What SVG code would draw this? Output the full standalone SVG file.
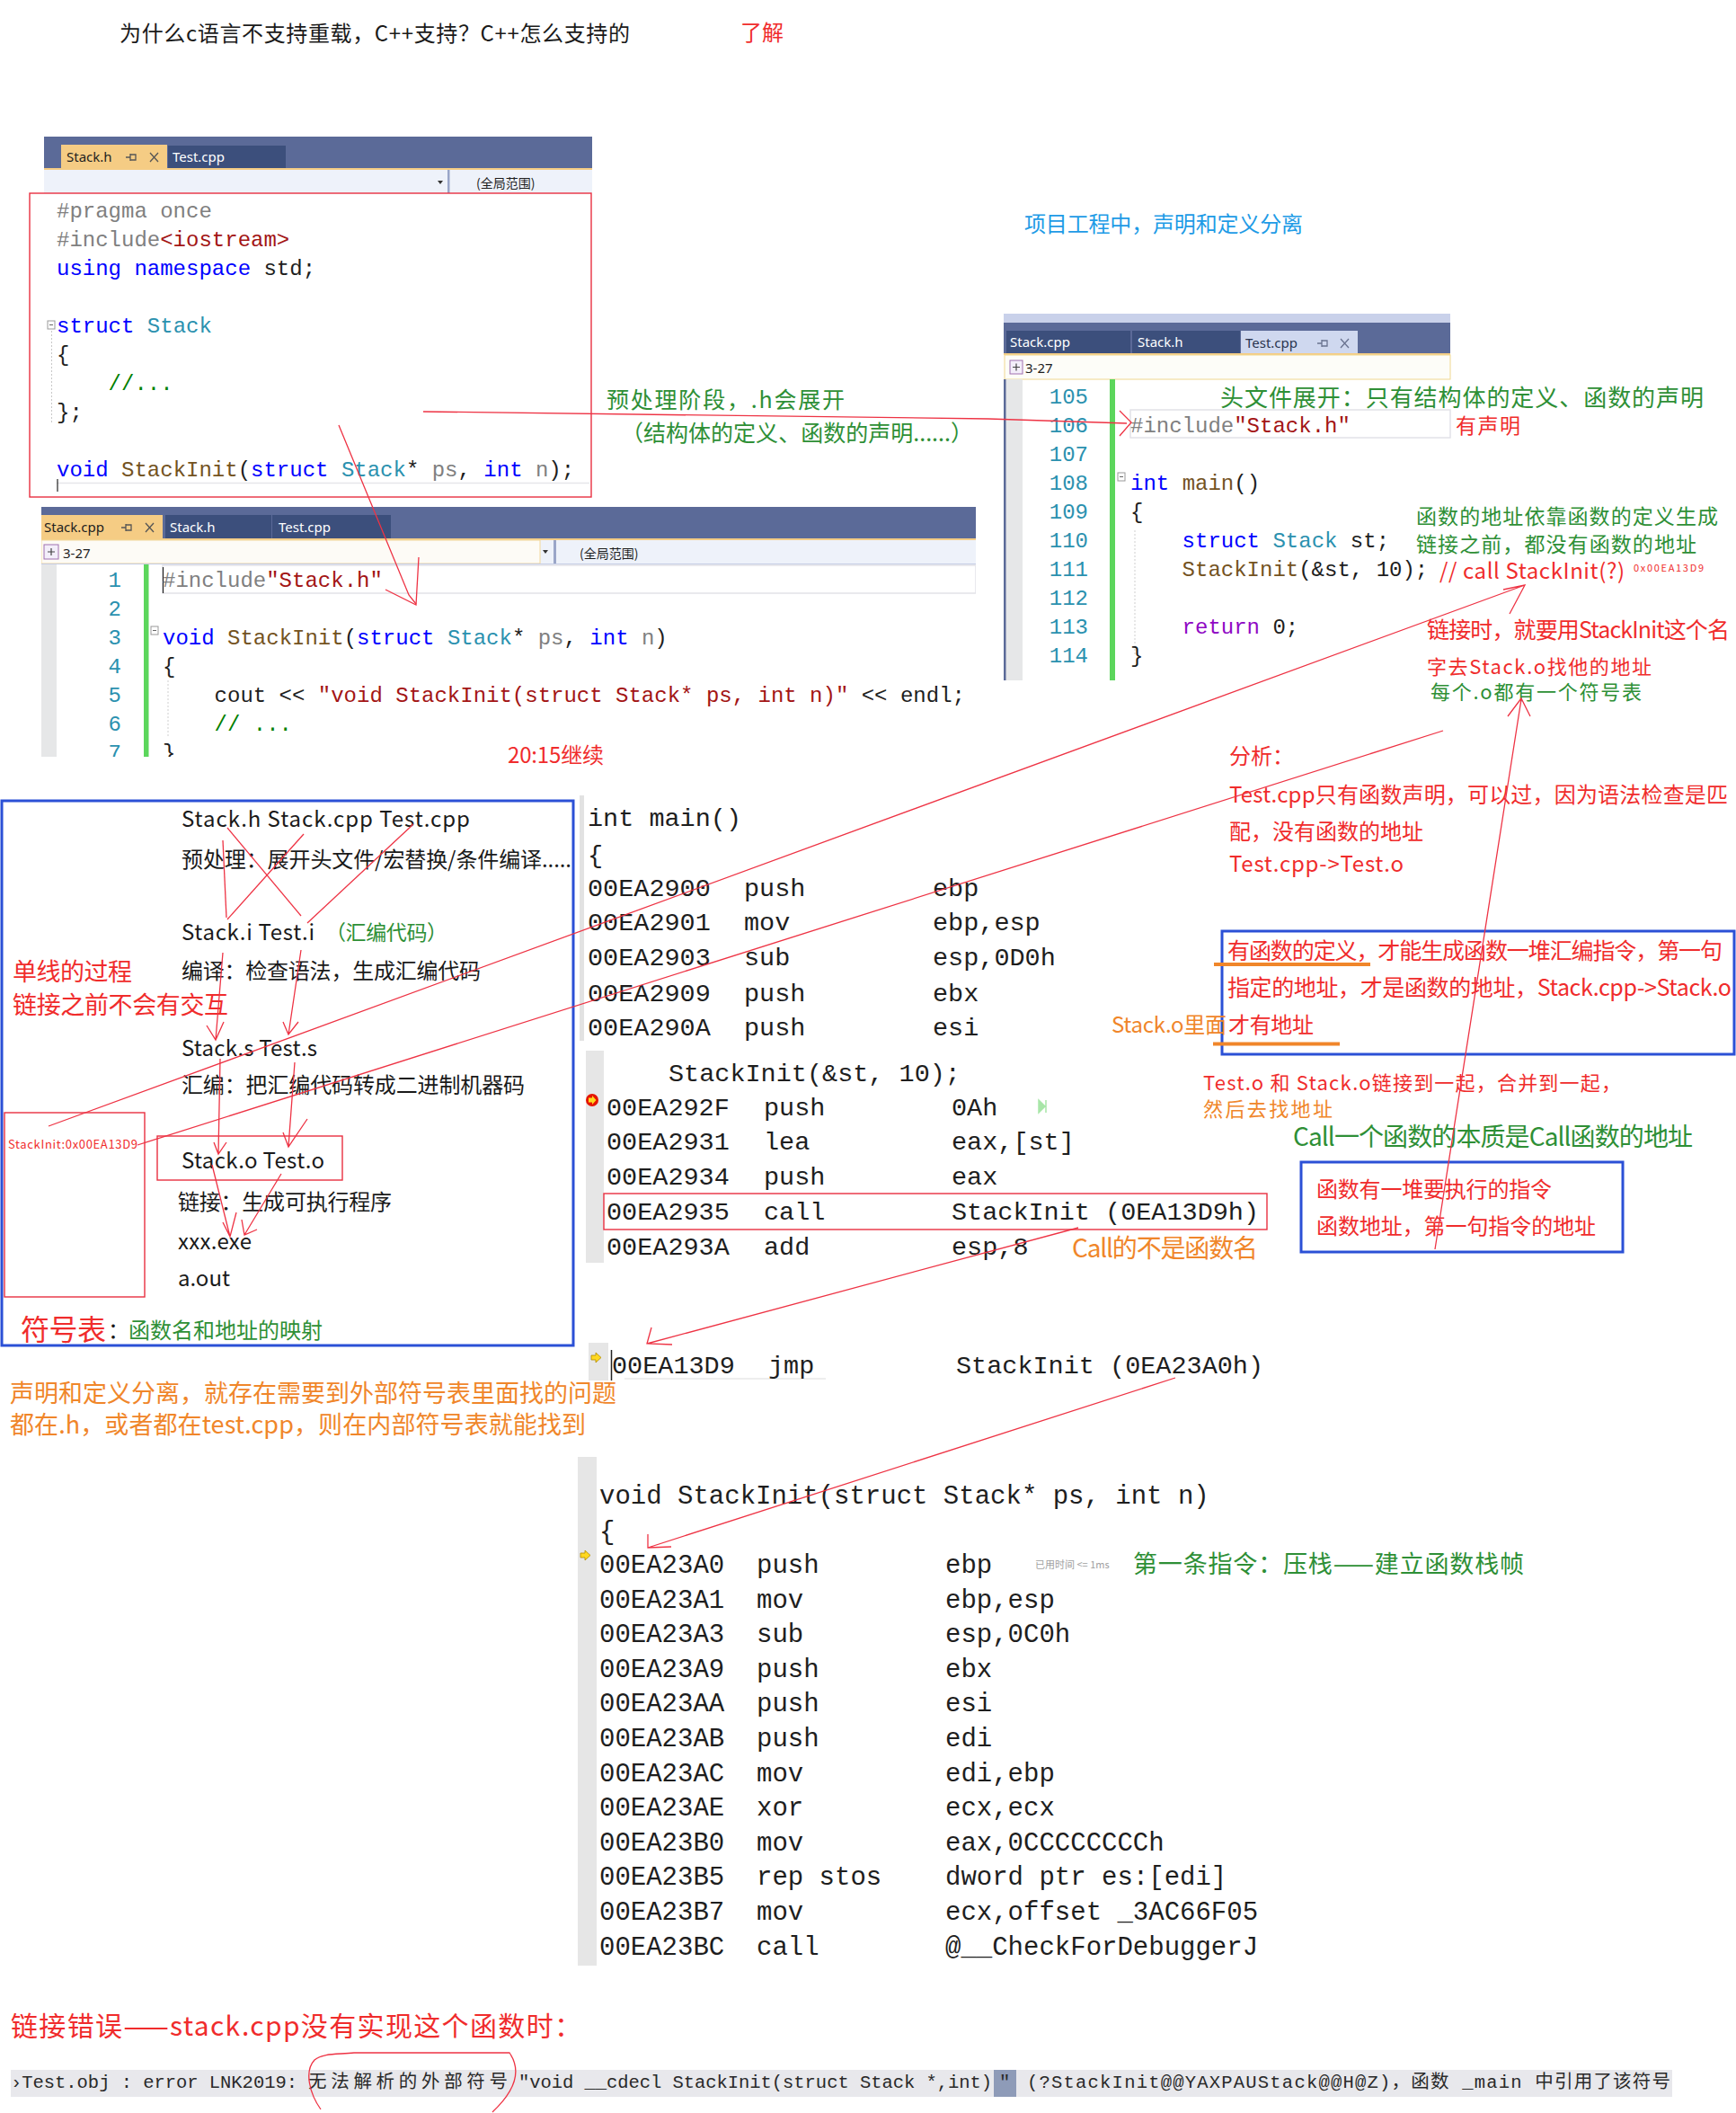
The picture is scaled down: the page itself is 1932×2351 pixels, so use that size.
<svg xmlns="http://www.w3.org/2000/svg" width="1932" height="2351" viewBox="0 0 1932 2351">
<defs>
<style>
.cjk{font-family:"Noto Sans CJK SC","Noto Sans",sans-serif}
.mono{font-family:"Liberation Mono","DejaVu Sans Mono","Noto Sans CJK SC",monospace;white-space:pre}
.code{font-size:24px;fill:#1e1e1e}
.asm{font-size:28.5px;fill:#1e1e1e}
.asm2{font-size:29px;fill:#1e1e1e}
.r{fill:#f02c2c}.g{fill:#2e8f36}.o{fill:#f0862a}.b{fill:#1e9be6}.k{fill:#1a1a1a}
.kw{fill:#0000ff}.ty{fill:#2b91af}.pp{fill:#808080}.st{fill:#a31515}.cm{fill:#008000}.fn{fill:#74531f}.pa{fill:#808080}.rt{fill:#8f08c4}
.ln{fill:#2b91af;font-size:24px}
.bar{fill:#5b6a98}.tab{fill:#3c4f7c}.act{fill:#f5cc84}
.tabt{font-family:"Noto Sans","Liberation Sans",sans-serif;font-size:15px}
.wire{fill:none;stroke:#ee3344;stroke-width:1.3}
.rbox{fill:none;stroke:#e83040;stroke-width:1.4}
.bbox{fill:none;stroke:#2b50d6;stroke-width:3}
.ic{fill:none;stroke:#555;stroke-width:1.3}
.gut{fill:#e6e7e8}
</style>
<clipPath id="cppclip"><rect x="46" y="564" width="1040" height="278"/></clipPath>
</defs>
<rect width="1932" height="2351" fill="#ffffff"/>

<g id="title">
<text class="cjk k" x="133" y="46" font-size="24" textLength="568">为什么c语言不支持重载，C++支持？C++怎么支持的</text>
<text class="cjk r" x="824" y="45" font-size="24">了解</text>
</g>

<g id="stack-h-window">
<rect class="bar" x="49" y="152" width="610" height="37"/>
<rect class="act" x="68" y="161" width="118" height="26"/>
<text class="tabt" x="74" y="180" fill="#1e1e1e">Stack.h</text>
<path class="ic" d="M140,175 h5 M145,171 v8 M145,172 h6 v6 h-6"/>
<path class="ic" d="M167,170 l9,10 M176,170 l-9,10"/>
<rect class="tab" x="187" y="162" width="131" height="25"/>
<text class="tabt" x="192" y="180" fill="#ffffff">Test.cpp</text>
<rect class="act" x="49" y="187" width="610" height="2"/>
<rect x="49" y="189" width="610" height="26" fill="#eef2fa"/>
<path d="M487,201 h6 l-3,4 z" fill="#333"/>
<rect x="498" y="189" width="2.5" height="26" fill="#9aa6c8"/>
<text class="cjk" x="530" y="209" font-size="14" fill="#1e1e1e">(全局范围)</text>
<rect class="rbox" x="33" y="215" width="625" height="338"/>
<rect x="53" y="357" width="8" height="9" fill="#fff" stroke="#999" stroke-width="1"/>
<path d="M55,361.5 h4" stroke="#666" stroke-width="1"/>
<path d="M57.5,368 V472" stroke="#c8c8c8" stroke-width="1" stroke-dasharray="2,2"/>
<text class="mono code" x="63" y="242"><tspan class="pp">#pragma once</tspan></text>
<text class="mono code" x="63" y="274"><tspan class="pp">#include</tspan><tspan class="st">&lt;iostream&gt;</tspan></text>
<text class="mono code" x="63" y="306"><tspan class="kw">using namespace</tspan> std;</text>
<text class="mono code" x="63" y="370"><tspan class="kw">struct</tspan> <tspan class="ty">Stack</tspan></text>
<text class="mono code" x="63" y="402">{</text>
<text class="mono code" x="120.6" y="434"><tspan class="cm">//...</tspan></text>
<text class="mono code" x="63" y="466">};</text>
<text class="mono code" x="63" y="530"><tspan class="kw">void</tspan> <tspan class="fn">StackInit</tspan>(<tspan class="kw">struct</tspan> <tspan class="ty">Stack</tspan>* <tspan class="pa">ps</tspan>, <tspan class="kw">int</tspan> <tspan class="pa">n</tspan>);</text>
<path d="M63,537.5 H656" stroke="#e6e6ea" stroke-width="1.5"/>
<path d="M64,533 V547" stroke="#222" stroke-width="1.2"/>
</g>

<g id="stack-cpp-window" clip-path="url(#cppclip)">
<rect class="bar" x="46" y="564" width="1040" height="37"/>
<rect class="act" x="46" y="573" width="135" height="27"/>
<text class="tabt" x="49" y="592" fill="#1e1e1e">Stack.cpp</text>
<path class="ic" d="M135,587 h5 M140,583 v8 M140,584 h6 v6 h-6"/>
<path class="ic" d="M162,582 l9,10 M171,582 l-9,10"/>
<rect class="tab" x="184" y="573" width="118" height="26"/>
<text class="tabt" x="189" y="592" fill="#ffffff">Stack.h</text>
<rect class="tab" x="303" y="573" width="132" height="26"/>
<text class="tabt" x="310" y="592" fill="#ffffff">Test.cpp</text>
<rect class="act" x="46" y="599" width="1040" height="2"/>
<rect x="46" y="601" width="1040" height="26" fill="#eef2fa"/>
<rect x="46" y="601" width="555" height="26" fill="#fdfbf6" stroke="#f2d79a" stroke-width="1"/>
<rect x="49" y="606" width="16" height="16" fill="#f3eefa" stroke="#a070b0" stroke-width="1"/>
<path d="M53,614 h8 M57,610 v8" stroke="#444" stroke-width="1.2"/>
<text class="tabt" x="70" y="621" fill="#1e1e1e">3-27</text>
<path d="M604,612 h6 l-3,4 z" fill="#333"/>
<rect x="616" y="601" width="3" height="26" fill="#9aa6c8"/>
<text class="cjk" x="645" y="621" font-size="14" fill="#1e1e1e">(全局范围)</text>
<path d="M46,627.5 H1086" stroke="#c4cce4" stroke-width="1"/>
<rect class="gut" x="46" y="628" width="17" height="214"/>
<rect x="160" y="628" width="5.5" height="214" fill="#5cd65c"/>
<rect x="181" y="629" width="905" height="31" fill="none" stroke="#e2e2e8" stroke-width="1.5"/>
<path d="M181.5,631 V660" stroke="#222" stroke-width="1.2"/>
<rect x="168" y="697" width="8" height="9" fill="#fff" stroke="#999" stroke-width="1"/>
<path d="M170,701.5 h4" stroke="#666" stroke-width="1"/>
<path d="M187,757 V820" stroke="#cfcfcf" stroke-width="1" stroke-dasharray="2,2"/>
<g class="mono ln" text-anchor="end">
<text x="135" y="653">1</text><text x="135" y="685">2</text><text x="135" y="717">3</text><text x="135" y="749">4</text><text x="135" y="781">5</text><text x="135" y="813">6</text><text x="135" y="845">7</text>
</g>
<text class="mono code" x="181" y="653"><tspan class="pp">#include</tspan><tspan class="st">"Stack.h"</tspan></text>
<text class="mono code" x="181" y="717"><tspan class="kw">void</tspan> <tspan class="fn">StackInit</tspan>(<tspan class="kw">struct</tspan> <tspan class="ty">Stack</tspan>* <tspan class="pa">ps</tspan>, <tspan class="kw">int</tspan> <tspan class="pa">n</tspan>)</text>
<text class="mono code" x="181" y="749">{</text>
<text class="mono code" x="238.6" y="781">cout &lt;&lt; <tspan class="st">"void StackInit(struct Stack* ps, int n)"</tspan> &lt;&lt; endl;</text>
<text class="mono code" x="238.6" y="813"><tspan class="cm">// ...</tspan></text>
<text class="mono code" x="181" y="845">}</text>
</g>

<g id="test-cpp-window">
<rect x="1117" y="349" width="497" height="10" fill="#c9d1ea"/>
<rect class="bar" x="1117" y="359" width="497" height="35"/>
<rect class="tab" x="1120" y="368" width="138" height="25"/>
<text class="tabt" x="1124" y="386" fill="#ffffff">Stack.cpp</text>
<rect class="tab" x="1260" y="368" width="120" height="25"/>
<text class="tabt" x="1266" y="386" fill="#ffffff">Stack.h</text>
<rect x="1381" y="368" width="130" height="25" fill="#cfd8ef"/>
<text class="tabt" x="1386" y="387" fill="#2a3550">Test.cpp</text>
<path d="M1466,382 h5 M1471,378 v8 M1471,379 h6 v6 h-6" fill="none" stroke="#6a7390" stroke-width="1.3"/>
<path d="M1492,377 l9,10 M1501,377 l-9,10" fill="none" stroke="#6a7390" stroke-width="1.3"/>
<rect class="act" x="1117" y="393" width="497" height="2"/>
<rect x="1118" y="395" width="496" height="27" fill="#fdfdf8" stroke="#f0d890" stroke-width="1"/>
<rect x="1124" y="401" width="14" height="15" fill="#f3eefa" stroke="#a070b0" stroke-width="1"/>
<path d="M1127,408.5 h8 M1131,404.5 v8" stroke="#444" stroke-width="1.2"/>
<text class="tabt" x="1141" y="415" fill="#1e1e1e">3-27</text>
<rect class="gut" x="1117" y="422" width="21" height="335"/>
<rect x="1117" y="422" width="2.5" height="335" fill="#5b6a98"/>
<rect x="1235" y="422" width="6" height="335" fill="#5cd65c"/>
<rect x="1258" y="456" width="356" height="31" fill="none" stroke="#e2e2e8" stroke-width="1.5"/>
<rect x="1244" y="526" width="8" height="9" fill="#fff" stroke="#999" stroke-width="1"/>
<path d="M1246,530.5 h4" stroke="#666" stroke-width="1"/>
<path d="M1263,590 V728" stroke="#cfcfcf" stroke-width="1" stroke-dasharray="2,2"/>
<g class="mono ln" text-anchor="end">
<text x="1211" y="449">105</text><text x="1211" y="481">106</text><text x="1211" y="513">107</text><text x="1211" y="545">108</text><text x="1211" y="577">109</text><text x="1211" y="609">110</text><text x="1211" y="641">111</text><text x="1211" y="673">112</text><text x="1211" y="705">113</text><text x="1211" y="737">114</text>
</g>
<text class="mono code" x="1258" y="481"><tspan class="pp">#include</tspan><tspan class="st">"Stack.h"</tspan></text>
<text class="mono code" x="1258" y="545"><tspan class="kw">int</tspan> <tspan class="fn">main</tspan>()</text>
<text class="mono code" x="1258" y="577">{</text>
<text class="mono code" x="1315.6" y="609"><tspan class="kw">struct</tspan> <tspan class="ty">Stack</tspan> st;</text>
<text class="mono code" x="1315.6" y="641"><tspan class="fn">StackInit</tspan>(&amp;st, 10);</text>
<text class="mono code" x="1315.6" y="705"><tspan class="rt">return</tspan> 0;</text>
<text class="mono code" x="1258" y="737">}</text>
</g>

<g id="top-notes" class="cjk">
<text class="b" x="1140" y="258" font-size="24" textLength="310">项目工程中，声明和定义分离</text>
<text class="g" x="675" y="454" font-size="25" textLength="265">预处理阶段，.h会展开</text>
<text class="g" x="691" y="491" font-size="25" textLength="392">（结构体的定义、函数的声明......）</text>
<text class="g" x="1358" y="452" font-size="26" textLength="538">头文件展开：只有结构体的定义、函数的声明</text>
<text class="r" x="1620" y="482" font-size="23" textLength="72">有声明</text>
<text class="g" x="1576" y="583" font-size="23" textLength="336">函数的地址依靠函数的定义生成</text>
<text class="g" x="1576" y="614" font-size="23" textLength="312">链接之前，都没有函数的地址</text>
<text class="r" x="1602" y="644" font-size="24" textLength="206">// call  StackInit(?)</text>
<text class="r" x="1818" y="636" font-size="11" textLength="78">0x00EA13D9</text>
<text class="r" x="1588" y="710" font-size="25" textLength="337">链接时，就要用StackInit这个名</text>
<text class="r" x="1588" y="750" font-size="22" textLength="250">字去Stack.o找他的地址</text>
<text class="g" x="1592" y="778" font-size="22" textLength="235">每个.o都有一个符号表</text>
<text class="r" x="565" y="849" font-size="24" textLength="107">20:15继续</text>
</g>

<g id="compile-box" class="cjk">
<rect class="bbox" x="2" y="891" width="636" height="606"/>
<text class="k" x="202" y="920" font-size="24" textLength="321">Stack.h  Stack.cpp  Test.cpp</text>
<text class="k" x="202" y="965" font-size="24" textLength="434">预处理：展开头文件/宏替换/条件编译.....</text>
<text class="k" x="202" y="1046" font-size="24" textLength="148">Stack.i  Test.i</text>
<text class="g" x="362" y="1046" font-size="23" textLength="136">（汇编代码）</text>
<text class="k" x="202" y="1089" font-size="24" textLength="333">编译：检查语法，生成汇编代码</text>
<text class="r" x="14" y="1091" font-size="27" textLength="133">单线的过程</text>
<text class="r" x="14" y="1128" font-size="27" textLength="240">链接之前不会有交互</text>
<text class="k" x="202" y="1175" font-size="24" textLength="151">Stack.s Test.s</text>
<text class="k" x="202" y="1216" font-size="24" textLength="382">汇编：把汇编代码转成二进制机器码</text>
<rect class="rbox" x="5" y="1238" width="156" height="205"/>
<text class="r" x="9" y="1278" font-size="13" textLength="144">StackInit:0x00EA13D9</text>
<rect class="rbox" x="175" y="1264" width="206" height="49"/>
<text class="k" x="202" y="1300" font-size="24" textLength="159">Stack.o Test.o</text>
<text class="k" x="198" y="1346" font-size="24" textLength="238">链接：生成可执行程序</text>
<text class="k" x="198" y="1390" font-size="24" textLength="82">xxx.exe</text>
<text class="k" x="198" y="1431" font-size="24" textLength="58">a.out</text>
<text class="r" x="23" y="1491" font-size="32" textLength="95">符号表</text>
<text class="k" x="120" y="1489" font-size="24">：</text>
<text class="g" x="143" y="1489" font-size="24" textLength="216">函数名和地址的映射</text>
</g>

<g id="asm-main" class="mono">
<rect x="645" y="885" width="5" height="273" fill="#e2e2e2"/>
<text class="asm" x="654" y="919">int main()</text>
<text class="asm" x="654" y="960">{</text>
<text class="asm" y="997"><tspan x="654">00EA2900</tspan><tspan x="828">push</tspan><tspan x="1038">ebp</tspan></text>
<text class="asm" y="1035"><tspan x="654">00EA2901</tspan><tspan x="828">mov</tspan><tspan x="1038">ebp,esp</tspan></text>
<text class="asm" y="1074"><tspan x="654">00EA2903</tspan><tspan x="828">sub</tspan><tspan x="1038">esp,0D0h</tspan></text>
<text class="asm" y="1114"><tspan x="654">00EA2909</tspan><tspan x="828">push</tspan><tspan x="1038">ebx</tspan></text>
<text class="asm" y="1152"><tspan x="654">00EA290A</tspan><tspan x="828">push</tspan><tspan x="1038">esi</tspan></text>
<rect x="652" y="1169" width="20" height="236" fill="#e6e6e6"/>
<text class="asm" x="744" y="1203">StackInit(&amp;st, 10);</text>
<circle cx="659" cy="1224" r="7" fill="#e51400"/>
<path d="M655,1221.5 h4 v-2.5 l4.5,5 l-4.5,5 v-2.5 h-4 z" fill="#ffd820"/>
<path d="M1156,1224 l7,7 l-7,7 z M1164,1224 v14" fill="#a8e6a8" stroke="#a8e6a8" stroke-width="1.5"/>
<text class="asm" y="1241"><tspan x="675">00EA292F</tspan><tspan x="850">push</tspan><tspan x="1059">0Ah</tspan></text>
<text class="asm" y="1279"><tspan x="675">00EA2931</tspan><tspan x="850">lea</tspan><tspan x="1059">eax,[st]</tspan></text>
<text class="asm" y="1318"><tspan x="675">00EA2934</tspan><tspan x="850">push</tspan><tspan x="1059">eax</tspan></text>
<text class="asm" y="1357"><tspan x="675">00EA2935</tspan><tspan x="850">call</tspan><tspan x="1059">StackInit (0EA13D9h)</tspan></text>
<text class="asm" y="1396"><tspan x="675">00EA293A</tspan><tspan x="850">add</tspan><tspan x="1059">esp,8</tspan></text>
<rect class="rbox" x="672" y="1328" width="738" height="40"/>
</g>

<g id="asm-jmp" class="mono">
<rect x="655" y="1494" width="22" height="42" fill="#e6e6e6"/>
<path d="M658,1508 h5 v-3 l6,5.5 l-6,5.5 v-3 h-5 z" fill="#ffd820" stroke="#b08a00" stroke-width="0.8"/>
<path d="M680.5,1502 V1536" stroke="#222" stroke-width="1.5"/>
<path d="M695,1534 H919" stroke="#e8e8e8" stroke-width="1.5"/>
<text class="asm" y="1528"><tspan x="681">00EA13D9</tspan><tspan x="855">jmp</tspan><tspan x="1064">StackInit (0EA23A0h)</tspan></text>
</g>

<g id="asm-stackinit" class="mono">
<rect x="643" y="1621" width="21" height="566" fill="#e6e6e6"/>
<path d="M646,1728 h5 v-3 l6,5.5 l-6,5.5 v-3 h-5 z" fill="#ffd820" stroke="#b08a00" stroke-width="0.8"/>
<text class="asm2" x="667" y="1673">void StackInit(struct Stack* ps, int n)</text>
<text class="asm2" x="667" y="1713">{</text>
<text class="asm2" y="1750"><tspan x="667">00EA23A0</tspan><tspan x="842">push</tspan><tspan x="1052">ebp</tspan></text>
<text class="asm2" y="1789"><tspan x="667">00EA23A1</tspan><tspan x="842">mov</tspan><tspan x="1052">ebp,esp</tspan></text>
<text class="asm2" y="1827"><tspan x="667">00EA23A3</tspan><tspan x="842">sub</tspan><tspan x="1052">esp,0C0h</tspan></text>
<text class="asm2" y="1866"><tspan x="667">00EA23A9</tspan><tspan x="842">push</tspan><tspan x="1052">ebx</tspan></text>
<text class="asm2" y="1904"><tspan x="667">00EA23AA</tspan><tspan x="842">push</tspan><tspan x="1052">esi</tspan></text>
<text class="asm2" y="1943"><tspan x="667">00EA23AB</tspan><tspan x="842">push</tspan><tspan x="1052">edi</tspan></text>
<text class="asm2" y="1982"><tspan x="667">00EA23AC</tspan><tspan x="842">mov</tspan><tspan x="1052">edi,ebp</tspan></text>
<text class="asm2" y="2020"><tspan x="667">00EA23AE</tspan><tspan x="842">xor</tspan><tspan x="1052">ecx,ecx</tspan></text>
<text class="asm2" y="2059"><tspan x="667">00EA23B0</tspan><tspan x="842">mov</tspan><tspan x="1052">eax,0CCCCCCCCh</tspan></text>
<text class="asm2" y="2097"><tspan x="667">00EA23B5</tspan><tspan x="842">rep stos</tspan><tspan x="1052">dword ptr es:[edi]</tspan></text>
<text class="asm2" y="2136"><tspan x="667">00EA23B7</tspan><tspan x="842">mov</tspan><tspan x="1052">ecx,offset _3AC66F05</tspan></text>
<text class="asm2" y="2175"><tspan x="667">00EA23BC</tspan><tspan x="842">call</tspan><tspan x="1052">@__CheckForDebuggerJ</tspan></text>
<text class="cjk" x="1152" y="1745" font-size="11" fill="#a0a0a0">已用时间 &lt;= 1ms</text>
</g>

<g id="right-notes" class="cjk">
<text class="r" x="1368" y="850" font-size="24">分析：</text>
<text class="r" x="1368" y="893" font-size="24" textLength="555">Test.cpp只有函数声明，可以过，因为语法检查是匹</text>
<text class="r" x="1368" y="934" font-size="24" textLength="216">配，没有函数的地址</text>
<text class="r" x="1368" y="970" font-size="24" textLength="194">Test.cpp-&gt;Test.o</text>
<rect class="bbox" x="1360" y="1036" width="570" height="137"/>
<text class="r" x="1366" y="1067" font-size="25" textLength="551">有函数的定义，才能生成函数一堆汇编指令，第一句</text>
<path d="M1351,1073 H1525" stroke="#f0862a" stroke-width="4"/>
<text class="r" x="1366" y="1108" font-size="25" textLength="561">指定的地址，才是函数的地址，Stack.cpp-&gt;Stack.o</text>
<text class="o" x="1237" y="1149" font-size="24" textLength="128">Stack.o里面</text>
<text class="r" x="1367" y="1149" font-size="24" textLength="95">才有地址</text>
<path d="M1350,1161.5 H1491" stroke="#f0862a" stroke-width="4"/>
<text class="r" x="1339" y="1213" font-size="22" textLength="465">Test.o 和 Stack.o链接到一起，合并到一起，</text>
<text class="o" x="1339" y="1242" font-size="22" textLength="144">然后去找地址</text>
<text class="g" x="1439" y="1275" font-size="28" textLength="445">Call一个函数的本质是Call函数的地址</text>
<rect class="bbox" x="1448" y="1293" width="358" height="100"/>
<text class="r" x="1465" y="1332" font-size="24" textLength="262">函数有一堆要执行的指令</text>
<text class="r" x="1465" y="1373" font-size="24" textLength="311">函数地址，第一句指令的地址</text>
<text class="o" x="1193" y="1399" font-size="28" textLength="207">Call的不是函数名</text>
</g>

<g id="lower-notes" class="cjk">
<text class="o" x="11" y="1560" font-size="27" textLength="675">声明和定义分离，就存在需要到外部符号表里面找的问题</text>
<text class="o" x="11" y="1595" font-size="27" textLength="641">都在.h，或者都在test.cpp，则在内部符号表就能找到</text>
<text class="g" x="1261" y="1750" font-size="27" textLength="435">第一条指令：压栈——建立函数栈帧</text>
<text class="r" x="12" y="2265" font-size="30" textLength="635">链接错误——stack.cpp没有实现这个函数时：</text>
</g>

<g id="error-line">
<rect x="12" y="2303" width="1849" height="30" fill="#e8e8ec"/>
<rect x="1106" y="2303" width="25" height="30" fill="#8e9bb8"/>
<g class="mono" font-size="20.5" fill="#2a2a2a">
<text x="12" y="2323" textLength="319">›Test.obj : error LNK2019:</text>
<text x="343" y="2323" textLength="222">无法解析的外部符号</text>
<text x="577" y="2323" textLength="527">"void __cdecl StackInit(struct Stack *,int)</text>
<text x="1112" y="2323">"</text>
<text x="1143" y="2323" textLength="716">(?StackInit@@YAXPAUStack@@H@Z)，函数 _main 中引用了该符号</text>
</g>
</g>

<g id="connectors">
<path class="wire" d="M471,458 L1100,466 L1254,471"/>
<path class="wire" d="M1246,457 L1259,470 L1246,485"/>
<path class="wire" d="M377,473 L455,662 L463,672"/>
<path class="wire" d="M429,656 L463,673 L466,620"/>
<path class="wire" d="M248,935 L252,1021"/>
<path class="wire" d="M253,921 L335,1019"/>
<path class="wire" d="M338,928 L253,1023"/>
<path class="wire" d="M460,917 L342,1027"/>
<path class="wire" d="M248,1060 L240,1157 M230,1141 L240,1157 L249,1137"/>
<path class="wire" d="M335,1057 L321,1151 M315,1137 L321,1151 L332,1137"/>
<path class="wire" d="M245,1178 L243,1284 M238,1271 L243,1284 L252,1271"/>
<path class="wire" d="M328,1182 L321,1276 M315,1260 L321,1276 L342,1245"/>
<path class="wire" d="M236,1296 L256,1376 M248,1360 L256,1376 L263,1349"/>
<path class="wire" d="M313,1306 L272,1374 M269,1357 L272,1374 L286,1368"/>
<path class="wire" d="M54,1253 L1697,651 M1673,656 L1697,651 L1680,683"/>
<path class="wire" d="M153,1274 L1606,813"/>
<path class="wire" d="M1200,1366 L720,1495 M725,1477 L720,1495 L748,1496"/>
<path class="wire" d="M1308,1533 L721,1722 M721,1707 L721,1722 L747,1721"/>
<path class="wire" d="M1597,1390 L1693,778 M1678,797 L1693,777 L1703,797"/>
<path class="wire" d="M357,2347 C345,2330 338,2305 350,2292 C360,2284 375,2286 394,2284 L567,2284 C578,2300 578,2322 548,2350"/>
</g>
</svg>
